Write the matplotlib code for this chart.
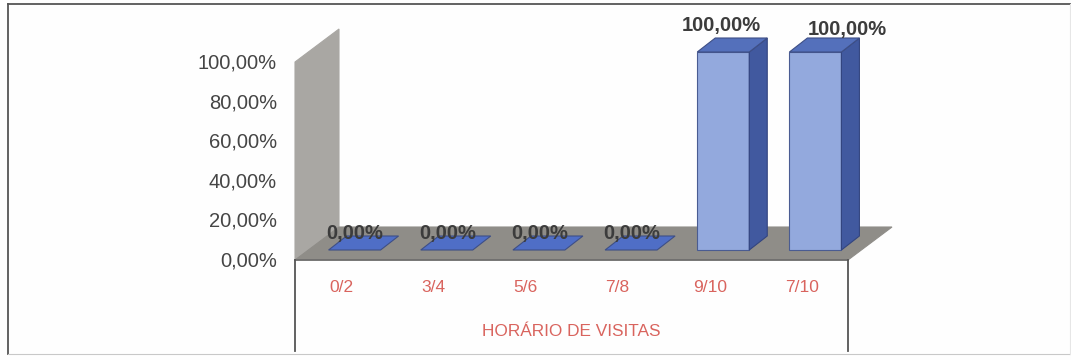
import matplotlib
matplotlib.use('Agg')

import matplotlib.pyplot as plt
from matplotlib.lines import Line2D
from matplotlib.patches import Polygon

plt.rcParams['font.family'] = ['Liberation Sans', 'DejaVu Sans']

# Data
categories = ['0/2', '3/4', '5/6', '7/8', '9/10', '7/10']
values = [0, 0, 0, 0, 100, 100]
value_labels = ['0,00%', '0,00%', '0,00%', '0,00%', '100,00%', '100,00%']
y_ticks = [0, 20, 40, 60, 80, 100]
y_tick_labels = ['0,00%', '20,00%', '40,00%', '60,00%', '80,00%', '100,00%']
x_title = 'HORÁRIO DE VISITAS'

W, H = 1071, 360
fig = plt.figure(figsize=(W / 100, H / 100), dpi=100, facecolor='#fefefe')
ax = fig.add_axes([295 / W, (H - 260) / H, (848 - 295) / W, 198 / H])
ax.set_xlim(-0.5, 5.5)
ax.set_ylim(0, 100)
ax.axis('off')

# sizes of the fake 3D box, in data units
px_x = 6 / 553
px_y = 100 / 198
depth_x = 44 * px_x
depth_y = 33 * px_y
bar_w = 52 * px_x
bar_dx = 18 * px_x
bar_dy = 14 * px_y
bar_off_x = 13.5 * px_x
bar_off_y = 10 * px_y


def poly(points, color, edge=None, z=2):
    ax.add_patch(Polygon(points, closed=True, facecolor=color, edgecolor=edge or color,
                         linewidth=0.8, clip_on=False, zorder=z))


# wall and floor
x0, x1 = ax.get_xlim()
poly([(x0, 0), (x0 + depth_x, depth_y), (x0 + depth_x, 100 + depth_y), (x0, 100)], '#a9a7a3', z=1)
poly([(x0, 0), (x1, 0), (x1 + depth_x, depth_y), (x0 + depth_x, depth_y)], '#8f8d88', z=1.5)
ax.plot([x0, x1], [0, 0], color='#6b6b6b', lw=1.2, clip_on=False, zorder=1.6)

# bars
for i, v in enumerate(values):
    left = i + bar_off_x - bar_w / 2
    right = left + bar_w
    base = bar_off_y
    top = base + v
    if v > 0:
        poly([(left, base), (right, base), (right, top), (left, top)], '#93a9dd', '#4a5c92', 3)
        poly([(right, base), (right + bar_dx, base + bar_dy), (right + bar_dx, top + bar_dy),
              (right, top)], '#41599f', '#33457f', 3)
    poly([(left, top), (right, top), (right + bar_dx, top + bar_dy),
          (left + bar_dx, top + bar_dy)], '#5470bb' if v > 0 else '#4f6ec6', '#3e4f86', 3)

# value labels
for i, (v, lab) in enumerate(zip(values, value_labels)):
    if i == 5:
        ax.annotate(lab, (i, v), xytext=(45, 33), textcoords='offset pixels', ha='center', va='center',
                    fontsize=14.5, fontweight='bold', color='#3c3c3c', zorder=5, annotation_clip=False)
    elif v > 0:
        ax.annotate(lab, (i, v), xytext=(12, 37), textcoords='offset pixels', ha='center', va='center',
                    fontsize=14.5, fontweight='bold', color='#3c3c3c', zorder=5, annotation_clip=False)
    else:
        ax.annotate(lab, (i, v), xytext=(14, 27), textcoords='offset pixels', ha='center', va='center',
                    fontsize=14.5, fontweight='bold', color='#3c3c3c', zorder=5, annotation_clip=False)

# y tick labels
for t, lab in zip(y_ticks, y_tick_labels):
    ax.annotate(lab, (x0, t), xytext=(-18, -1), textcoords='offset pixels', ha='right', va='center',
                fontsize=14.5, color='#454545', annotation_clip=False)

# category labels + title
for i, c in enumerate(categories):
    ax.annotate(c, (i, 0), xytext=(0, -27), textcoords='offset pixels', ha='center', va='center',
                fontsize=12.5, color='#d9645e', annotation_clip=False)
ax.annotate(x_title, (2.5, 0), xytext=(0, -71), textcoords='offset pixels', ha='center', va='center',
            fontsize=12.4, color='#d9645e', annotation_clip=False)


def pixel_line(xs, ys, color='#555555', lw=1.3):
    fig.add_artist(Line2D([x / W for x in xs], [1 - y / H for y in ys], color=color, lw=lw))


# table lines under the axis
pixel_line([295, 295], [260, 351])
pixel_line([848, 848], [260, 351])

# outer border
pixel_line([8, 1070], [4, 4])
pixel_line([8, 8], [4, 354])
pixel_line([8, 1070], [354, 354], color='#c8c8c8', lw=0.8)
pixel_line([1070, 1070], [4, 354], color='#e6e6e6', lw=0.8)

fig.savefig('out.png', dpi=100, facecolor=fig.get_facecolor())
